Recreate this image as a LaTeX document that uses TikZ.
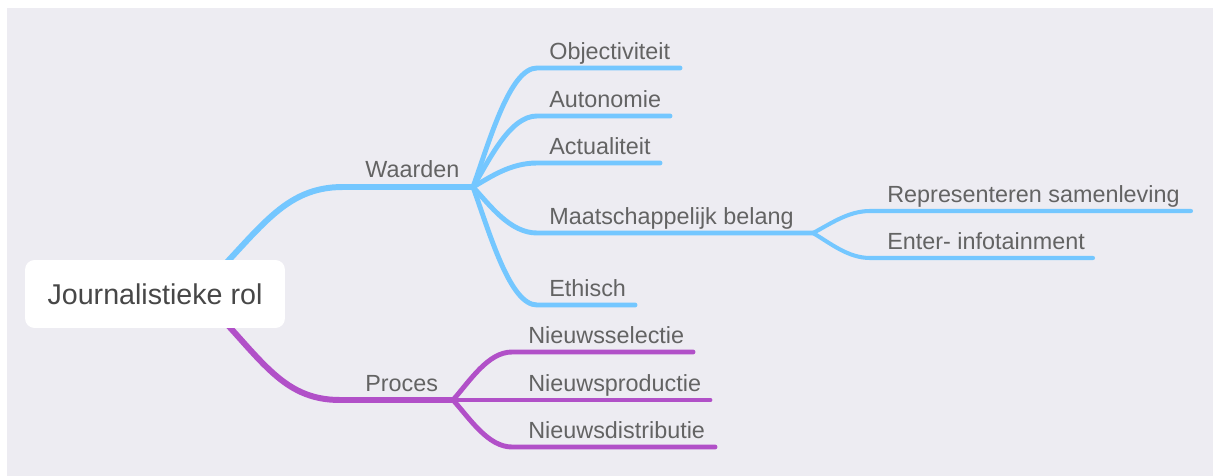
\documentclass[tikz,border=0pt]{standalone}
\usepackage{fontspec}
\setmainfont{Liberation Sans}
\usetikzlibrary{calc}
\definecolor{paper}{HTML}{EDECF2}
\definecolor{waardenblue}{HTML}{74C7FF}
\definecolor{procespurple}{HTML}{B150C8}
\definecolor{labelgray}{HTML}{636363}
\pgfdeclarelayer{bg}
\pgfsetlayers{bg,main}

\begin{document}
\begin{tikzpicture}[x=0.02cm, y=-0.02cm]
	\tikzset{lbl/.style = {anchor=base west, inner sep=0, text=labelgray, font=\fontsize{13.3}{16}\selectfont},
		rootbox/.style = {fill=white, rounded corners=5.5pt, minimum width=5.2cm, minimum height=1.36cm, inner sep=0, text=black!72, font=\fontsize{16.3}{19}\selectfont},
		mainline/.style = {line width=3.4pt, line cap=round},
		subline/.style = {line width=2.8pt, line cap=round},
		leafline/.style = {line width=2.3pt, line cap=round}}
	\useasboundingbox (0,0) rectangle (1213,476);
	\node[rootbox] (root) at (155,294) {Journalistieke rol};
	\coordinate (waardenS) at (343,187);
	\coordinate (waardenH) at (473,187);
	\coordinate (procesS) at (340,400);
	\coordinate (procesH) at (453,400);
	\node[lbl] (waarden) at (365,178) {Waarden};
	\node[lbl] (proces) at (365,391) {Proces};
	\begin{pgfonlayer}{bg}
		\fill[paper] (7,8) rectangle (1213,476);
		\draw[mainline, waardenblue] ($(root.east)+(-85,-4)$) .. controls +(60,-60) and +(-60,0) .. (waardenS) -- (waardenH);
		\draw[mainline, procespurple] ($(root.east)+(-85,2)$) .. controls +(60,60) and +(-60,0) .. (procesS) -- (procesH);
	\end{pgfonlayer}
	% waarden
	\foreach \n/\t/\y/\e in {objectiviteit/Objectiviteit/68/680, autonomie/Autonomie/116/670,
		actualiteit/Actualiteit/163/660, maatschappelijk/Maatschappelijk belang/233/813, ethisch/Ethisch/305/635}{
		\pgfmathsetmacro\cy{187+0.4*(\y-187)}
		\node[lbl] (\n) at (549,\y-8.5) {\t};
		\coordinate (\n-s) at (537,\y);
		\coordinate (\n-e) at (\e,\y);
		\draw[subline, waardenblue] (waardenH) .. controls (490,\cy) and (510,\y) .. (\n-s) -- (\n-e);
	}
	\foreach \n/\t/\y/\e in {representeren/Representeren samenleving/211/1191, enter/Enter- infotainment/258/1093}{
		\pgfmathsetmacro\cy{233+0.4*(\y-233)}
		\node[lbl] (\n) at (887,\y-8.5) {\t};
		\coordinate (\n-s) at (870,\y);
		\coordinate (\n-e) at (\e,\y);
		\draw[leafline, waardenblue] (maatschappelijk-e) .. controls (830,\cy) and (848,\y) .. (\n-s) -- (\n-e);
	}
	% proces
	\foreach \n/\t/\y/\e in {nieuwsselectie/Nieuwsselectie/352/693, nieuwsproductie/Nieuwsproductie/400/710,
		nieuwsdistributie/Nieuwsdistributie/447/715}{
		\pgfmathsetmacro\cy{400+0.4*(\y-400)}
		\node[lbl] (\n) at (528,\y-8.5) {\t};
		\coordinate (\n-s) at (512,\y);
		\coordinate (\n-e) at (\e,\y);
		\draw[subline, procespurple] (procesH) .. controls (470,\cy) and (488,\y) .. (\n-s) -- (\n-e);
	}
\end{tikzpicture}
\end{document}
